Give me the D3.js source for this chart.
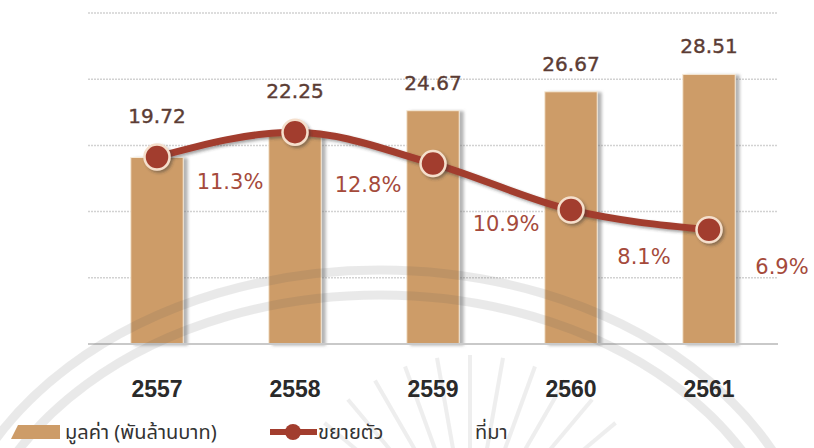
<!DOCTYPE html>
<html>
<head>
<meta charset="utf-8">
<script src="https://cdn.jsdelivr.net/npm/d3@7"></script>
<style>
  html, body { margin: 0; padding: 0; background: #fff; }
  svg { display: block; }
</style>
</head>
<body>
<svg id="chart"></svg>
<script>
const years = ["2557", "2558", "2559", "2560", "2561"];
const values = [19.72, 22.25, 24.67, 26.67, 28.51];
const growth = [11.3, 12.8, 10.9, 8.1, 6.9];
const gridTicks = [0, 7, 14, 21, 28, 35];
const legendBar = "มูลค่า (พันล้านบาท)";
const legendLine = "ขยายตัว";
const legendSource = "ที่มา";

const width = 814;
const height = 448;
const margin = { top: 13, right: 36, bottom: 104, left: 88 };
const barColor = "#cd9c68";
const lineColor = "#a23d2e";

const svg = d3.select("#chart")
    .attr("width", width)
    .attr("height", height);

const defs = svg.append("defs");
const shadow = defs.append("filter").attr("id", "barShadow")
    .attr("x", "-20%").attr("y", "-10%").attr("width", "150%").attr("height", "120%");
shadow.append("feDropShadow")
    .attr("dx", 4).attr("dy", 1).attr("stdDeviation", 1.5)
    .attr("flood-color", "#777").attr("flood-opacity", 0.55);
const dotShadow = defs.append("filter").attr("id", "dotShadow")
    .attr("x", "-50%").attr("y", "-50%").attr("width", "200%").attr("height", "200%");
dotShadow.append("feDropShadow")
    .attr("dx", 2).attr("dy", 2).attr("stdDeviation", 1.5)
    .attr("flood-color", "#333").attr("flood-opacity", 0.45);

const x = d3.scaleBand()
    .domain(years)
    .range([margin.left, width - margin.right])
    .paddingInner(0.62)
    .paddingOuter(0.31);

const y = d3.scaleLinear()
    .domain([0, 35])
    .range([height - margin.bottom, margin.top]);

// growth line is on its own scale
const y2 = d3.scaleLinear()
    .domain([0, 20])
    .range([height - margin.bottom, margin.top]);

const cx = d => x(d) + x.bandwidth() / 2;

// grid
svg.append("g")
    .selectAll("line")
    .data(gridTicks.filter(t => t > 0))
    .enter()
    .append("line")
    .attr("x1", margin.left)
    .attr("x2", width - margin.right)
    .attr("y1", d => y(d))
    .attr("y2", d => y(d))
    .style("stroke", "#d2d2d2")
    .style("stroke-width", 1.5)
    .style("stroke-dasharray", "2,1");

// bars
svg.append("g")
    .selectAll("rect")
    .data(values)
    .enter()
    .append("rect")
    .attr("x", (d, i) => x(years[i]))
    .attr("y", d => y(d))
    .attr("width", x.bandwidth())
    .attr("height", d => y(0) - y(d))
    .attr("filter", "url(#barShadow)")
    .style("fill", barColor)
    .style("stroke", "#f6ead8")
    .style("stroke-width", 1);

// baseline
svg.append("line")
    .attr("x1", margin.left)
    .attr("x2", width - margin.right)
    .attr("y1", y(0))
    .attr("y2", y(0))
    .style("stroke", "#c9c9c9")
    .style("stroke-width", 2);

// faint watermark seal behind the lower half
const wm = svg.append("g").style("opacity", 0.12).style("pointer-events", "none");
[[440, 330], [415, 305]].forEach(r => {
    wm.append("ellipse")
        .attr("cx", 380).attr("cy", 600).attr("rx", r[0]).attr("ry", r[1])
        .style("fill", "none").style("stroke", "#555").style("stroke-width", 9);
});
d3.range(-70, 71, 10).forEach(a => {
    const t = (a - 90) * Math.PI / 180;
    wm.append("line")
        .attr("x1", 470 + Math.cos(t) * 90).attr("y1", 545 + Math.sin(t) * 90)
        .attr("x2", 470 + Math.cos(t) * 190).attr("y2", 545 + Math.sin(t) * 190)
        .style("stroke", "#777").style("stroke-width", 4);
});

// growth line
const line = d3.line()
    .x((d, i) => cx(years[i]))
    .y(d => y2(d))
    .curve(d3.curveMonotoneX);

svg.append("path")
    .datum(growth)
    .attr("d", line)
    .attr("filter", "url(#dotShadow)")
    .style("fill", "none")
    .style("stroke", lineColor)
    .style("stroke-width", 7);

svg.append("g")
    .selectAll("circle")
    .data(growth)
    .enter()
    .append("circle")
    .attr("cx", (d, i) => cx(years[i]))
    .attr("cy", d => y2(d))
    .attr("r", 12.5)
    .attr("filter", "url(#dotShadow)")
    .style("fill", lineColor)
    .style("stroke", "#f5dfcc")
    .style("stroke-width", 2.5);

// value labels above bars (kept clear of the line)
svg.append("g")
    .selectAll("text")
    .data(values)
    .enter()
    .append("text")
    .attr("x", (d, i) => cx(years[i]))
    .attr("y", (d, i) => Math.min(y(d), y2(growth[i]) - 13) - 21)
    .attr("text-anchor", "middle")
    .style("font-family", "DejaVu Sans, sans-serif")
    .style("font-size", "20px")
    .style("fill", "#5b3c34")
    .style("stroke", "#5b3c34")
    .style("stroke-width", 0.4)
    .text(d => d.toFixed(2));

// growth labels, between bars, below the line
svg.append("g")
    .selectAll("text")
    .data(growth)
    .enter()
    .append("text")
    .attr("x", (d, i) => cx(years[i]) + x.step() / 2 + 4)
    .attr("y", (d, i) => {
        const next = i < growth.length - 1 ? growth[i + 1] : d;
        return (y2(d) + y2(next)) / 2 + 44;
    })
    .attr("text-anchor", "middle")
    .style("font-family", "DejaVu Sans, sans-serif")
    .style("font-size", "21px")
    .style("fill", "#a54a3b")
    .text(d => d.toFixed(1) + "%");

// year axis
const xAxis = d3.axisBottom(x).tickSize(0).tickPadding(0);
const gx = svg.append("g")
    .attr("transform", `translate(0, ${y(0) + 53})`)
    .call(xAxis);
gx.select(".domain").remove();
gx.selectAll("text")
    .attr("dy", 0)
    .style("font-family", "Liberation Sans, Arial, sans-serif")
    .style("font-weight", "bold")
    .style("font-size", "23px")
    .style("fill", "#2a2a2a");

// legend
const legendY = 432;
const leg = svg.append("g");
leg.append("path")
    .attr("d", `M11,${legendY + 7} L18,${legendY - 7} L60,${legendY - 7} L60,${legendY + 7} Z`)
    .style("fill", barColor);
leg.append("text")
    .attr("x", 65)
    .attr("y", legendY + 7)
    .style("font-family", "Noto Sans Thai, Loma, Garuda, Tahoma, sans-serif")
    .style("font-size", "20px")
    .style("fill", "#333")
    .text(legendBar);
leg.append("line")
    .attr("x1", 270).attr("x2", 317)
    .attr("y1", legendY).attr("y2", legendY)
    .style("stroke", lineColor)
    .style("stroke-width", 6);
leg.append("circle")
    .attr("cx", 293).attr("cy", legendY).attr("r", 8)
    .style("fill", lineColor);
leg.append("text")
    .attr("x", 318)
    .attr("y", legendY + 7)
    .style("font-family", "Noto Sans Thai, Loma, Garuda, Tahoma, sans-serif")
    .style("font-size", "20px")
    .style("fill", "#333")
    .text(legendLine);
leg.append("text")
    .attr("x", 475)
    .attr("y", legendY + 7)
    .style("font-family", "Noto Sans Thai, Loma, Garuda, Tahoma, sans-serif")
    .style("font-size", "20px")
    .style("fill", "#333")
    .text(legendSource);
</script>
</body>
</html>
